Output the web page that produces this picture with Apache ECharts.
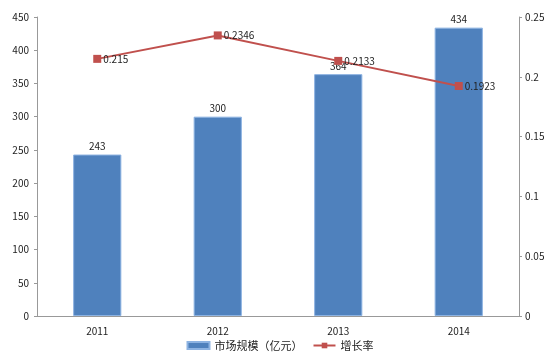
<!DOCTYPE html>
<html><head><meta charset="utf-8">
<script src="https://cdn.jsdelivr.net/npm/echarts@6/dist/echarts.min.js"></script>
<style>html,body{margin:0;padding:0;background:#fff}#c{width:560px;height:362px}</style>
</head><body><div id="c"></div>
<script>
var categories = ['2011', '2012', '2013', '2014'];
var marketSize = [243, 300, 364, 434];
var growthRate = [0.215, 0.2346, 0.2133, 0.1923];
var leftTicks = [0, 450, 50];
var rightTicks = [0, 0.25, 0.05];

var font = '"Noto Sans CJK SC", "DejaVu Sans", sans-serif';
var chart = echarts.init(document.getElementById('c'));
chart.setOption({
  animation: false,
  textStyle: {fontFamily: font},
  grid: {left: 37, right: 41, top: 17, bottom: 46},
  legend: {
    bottom: 6, itemGap: 10, itemWidth: 22, itemHeight: 7,
    textStyle: {fontSize: 11, color: '#222', fontFamily: font},
    data: [
      {name: '市场规模（亿元）', icon: 'rect'},
      {name: '增长率'}
    ]
  },
  xAxis: {
    type: 'category', data: categories,
    axisLine: {lineStyle: {color: '#999'}},
    axisTick: {show: false},
    axisLabel: {color: '#222', fontSize: 10, margin: 10}
  },
  yAxis: [
    {
      type: 'value', min: leftTicks[0], max: leftTicks[1], interval: leftTicks[2],
      axisLine: {show: true, lineStyle: {color: '#999'}},
      axisTick: {show: true, length: 3, lineStyle: {color: '#999'}},
      splitLine: {show: false},
      axisLabel: {color: '#222', fontSize: 10, margin: 8}
    },
    {
      type: 'value', min: rightTicks[0], max: rightTicks[1], interval: rightTicks[2],
      axisLine: {show: true, lineStyle: {color: '#999'}},
      axisTick: {show: true, length: 3, lineStyle: {color: '#999'}},
      splitLine: {show: false},
      axisLabel: {color: '#222', fontSize: 10, margin: 6}
    }
  ],
  series: [
    {
      name: '市场规模（亿元）', type: 'bar', data: marketSize, barWidth: '40%',
      itemStyle: {color: '#4F81BD', borderColor: '#8DB3E2', borderWidth: 1},
      label: {show: true, position: 'top', color: '#222', fontSize: 10, distance: 3}
    },
    {
      name: '增长率', type: 'line', yAxisIndex: 1, data: growthRate,
      symbol: 'rect', symbolSize: 8,
      lineStyle: {color: '#C0504D', width: 2},
      itemStyle: {color: '#C0504D'},
      label: {show: true, position: 'right', color: '#222', fontSize: 10, distance: 2}
    }
  ]
});
</script></body></html>
